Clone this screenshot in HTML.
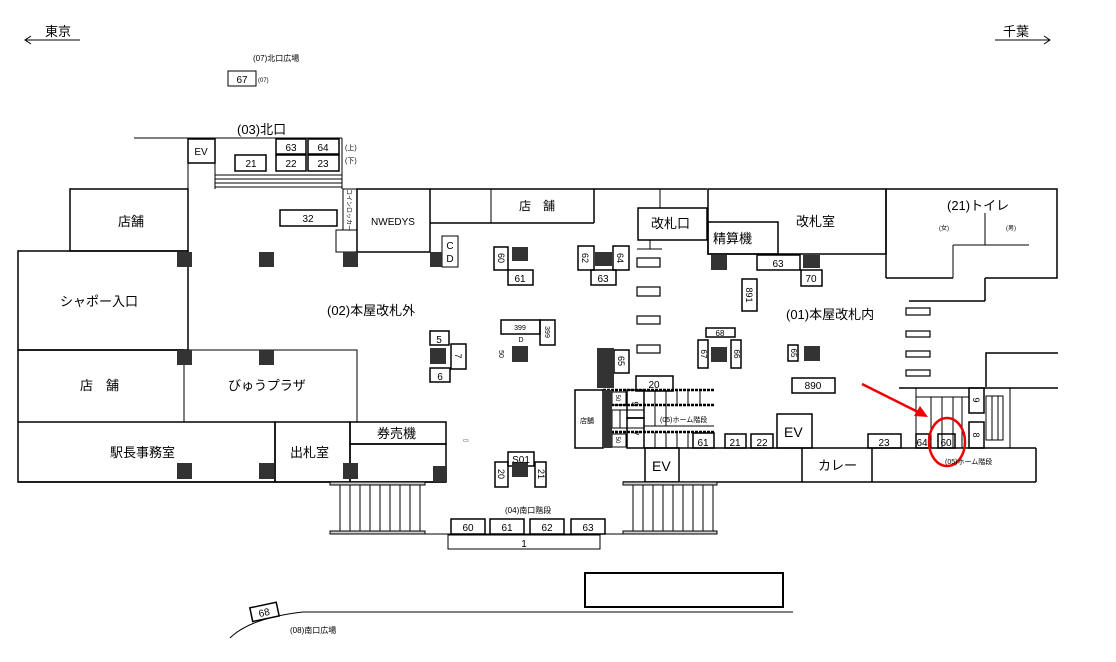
<!DOCTYPE html>
<html><head><meta charset="utf-8"><style>
html,body{margin:0;padding:0;background:#fff;}
svg{display:block;}
text{font-family:"Liberation Sans","Noto Sans CJK JP",sans-serif;fill:#000;}
</style></head><body>
<svg width="1116" height="662" viewBox="0 0 1116 662" xmlns="http://www.w3.org/2000/svg">
<g fill="none" stroke="#000" stroke-width="1">
<line x1="25" y1="40" x2="80" y2="40"/><polyline points="31,36 25,40 31,44"/>
<line x1="995" y1="40" x2="1050" y2="40"/><polyline points="1044,36 1050,40 1044,44"/>
<rect x="228" y="71" width="28" height="15"/>
<line x1="134" y1="138" x2="342" y2="138"/>
<rect x="188" y="139" width="27" height="24" stroke-width="1.5"/>
<line x1="188" y1="139" x2="188" y2="251"/>
<line x1="215" y1="139" x2="215" y2="189"/><line x1="342" y1="138" x2="342" y2="189"/>
<line x1="215" y1="175" x2="342" y2="175"/><line x1="215" y1="179" x2="342" y2="179"/><line x1="215" y1="183" x2="342" y2="183"/><line x1="215" y1="187" x2="342" y2="187"/>
<g stroke-width="1.5">
<rect x="276" y="139" width="30" height="15"/><rect x="308" y="139" width="31" height="15"/>
<rect x="235" y="155" width="31" height="16"/><rect x="276" y="155" width="30" height="16"/><rect x="308" y="155" width="31" height="16"/>
<rect x="70" y="189" width="118" height="62"/>
<rect x="18" y="251" width="170" height="99"/>
<line x1="18" y1="350" x2="184" y2="350"/><line x1="18" y1="350" x2="18" y2="422"/>
<rect x="18" y="422" width="257" height="60"/>
<rect x="275" y="422" width="75" height="60"/>
<rect x="350" y="422" width="96" height="22"/>
<rect x="350" y="444" width="96" height="38"/>
<rect x="280" y="210" width="57" height="16"/>
<rect x="357" y="189" width="73" height="63"/>
<line x1="430" y1="189" x2="707" y2="189"/>
<line x1="430" y1="223" x2="594" y2="223"/><line x1="594" y1="189" x2="594" y2="223"/>
</g>
<rect x="184" y="350" width="173" height="72"/>
<rect x="343" y="189" width="14" height="41"/>
<rect x="336" y="230" width="21" height="22"/>
<line x1="491" y1="189" x2="491" y2="223"/>
<line x1="660" y1="189" x2="660" y2="208"/>
<rect x="442" y="236" width="16" height="31"/>
<g stroke-width="1.5">
<rect x="494" y="247" width="14" height="23"/><rect x="508" y="270" width="25" height="15"/>
<rect x="430" y="331" width="19" height="14"/><rect x="451" y="344" width="15" height="25"/><rect x="430" y="368" width="20" height="14"/>
<rect x="501" y="320" width="39" height="14"/><rect x="540" y="320" width="15" height="25"/>
<rect x="508" y="452" width="26" height="14"/><rect x="495" y="462" width="13" height="25"/><rect x="535" y="462" width="11" height="25"/>
<rect x="578" y="246" width="16" height="24"/><rect x="613" y="246" width="16" height="24"/><rect x="591" y="270" width="25" height="15"/>
<rect x="614" y="350" width="15" height="23"/><rect x="636" y="376" width="37" height="15"/>
<rect x="638" y="208" width="69" height="32"/>
<rect x="708" y="189" width="178" height="65"/>
<rect x="708" y="222" width="70" height="32"/>
<rect x="757" y="255" width="43" height="15"/><rect x="801" y="270" width="21" height="16"/>
<rect x="742" y="279" width="15" height="32"/>
<rect x="706" y="328" width="29" height="9"/><rect x="698" y="340" width="10" height="28"/><rect x="731" y="340" width="10" height="28"/>
<rect x="788" y="345" width="10" height="16"/>
<rect x="792" y="378" width="43" height="15"/>
<polyline points="886,189 1057,189 1057,278 985,278"/><line x1="886" y1="189" x2="886" y2="278"/><line x1="886" y1="278" x2="953" y2="278"/>
<line x1="985" y1="278" x2="985" y2="301"/><line x1="909" y1="301" x2="985" y2="301"/>
<polyline points="986,387 986,353 1058,353"/><line x1="899" y1="388" x2="1058" y2="388"/>
</g>
<line x1="985" y1="213" x2="985" y2="245"/><line x1="953" y1="245" x2="1029" y2="245"/><line x1="953" y1="245" x2="953" y2="278"/>
<line x1="650" y1="240" x2="650" y2="249"/><line x1="637" y1="249" x2="662" y2="249"/>
<g stroke-width="1.2">
<rect x="637" y="258" width="23" height="9"/><rect x="637" y="287" width="23" height="9"/><rect x="637" y="316" width="23" height="8"/><rect x="637" y="345" width="23" height="8"/>
<rect x="906" y="308" width="24" height="7"/><rect x="906" y="331" width="24" height="6"/><rect x="906" y="351" width="24" height="6"/><rect x="906" y="370" width="24" height="6"/>
</g>
<line x1="916" y1="388" x2="916" y2="448"/><line x1="1010" y1="388" x2="1010" y2="448"/>
<line x1="931" y1="397" x2="931" y2="448"/><line x1="942" y1="397" x2="942" y2="448"/><line x1="953" y1="397" x2="953" y2="448"/><line x1="962" y1="397" x2="962" y2="448"/>
<line x1="916" y1="397" x2="969" y2="397"/>
<rect x="969" y="388" width="15" height="25" stroke-width="1.5"/><rect x="969" y="422" width="15" height="26" stroke-width="1.5"/>
<rect x="986" y="396" width="17" height="44"/><line x1="992" y1="396" x2="992" y2="440"/><line x1="998" y1="396" x2="998" y2="440"/>
<g stroke-width="1.5">
<rect x="868" y="434" width="33" height="14"/><rect x="916" y="434" width="13" height="14"/><rect x="938" y="434" width="17" height="14"/>
<rect x="725" y="434" width="21" height="14"/><rect x="751" y="434" width="22" height="14"/>
<rect x="777" y="414" width="35" height="34"/>
<line x1="645" y1="448" x2="1036" y2="448"/><line x1="623" y1="482" x2="1036" y2="482"/><line x1="1036" y1="448" x2="1036" y2="482"/>
<line x1="802" y1="448" x2="802" y2="482"/><line x1="872" y1="448" x2="872" y2="482"/>
<rect x="645" y="448" width="34" height="34"/>
<rect x="575" y="390" width="28" height="58"/>
<rect x="693" y="433" width="21" height="15"/>
<rect x="627" y="390" width="17" height="28"/><rect x="627" y="418" width="17" height="30"/>
</g>
<g stroke-width="1">
<line x1="603" y1="390" x2="714" y2="390" stroke-width="2.5" stroke-dasharray="3,1"/>
<line x1="603" y1="405" x2="714" y2="405" stroke-width="2.5" stroke-dasharray="3,1"/>
<line x1="603" y1="432" x2="714" y2="432" stroke-width="2.5" stroke-dasharray="3,1"/>
<line x1="603" y1="410" x2="644" y2="410"/><line x1="603" y1="428" x2="644" y2="428"/>
<line x1="644" y1="426" x2="714" y2="426"/>
<line x1="655" y1="390" x2="655" y2="405"/><line x1="666" y1="390" x2="666" y2="405"/><line x1="677" y1="390" x2="677" y2="405"/><line x1="688" y1="390" x2="688" y2="405"/><line x1="700" y1="390" x2="700" y2="405"/>
<line x1="655" y1="432" x2="655" y2="448"/><line x1="666" y1="432" x2="666" y2="448"/><line x1="677" y1="432" x2="677" y2="448"/><line x1="688" y1="432" x2="688" y2="448"/>
<line x1="612" y1="410" x2="612" y2="428"/><line x1="620" y1="410" x2="620" y2="428"/>
<line x1="655" y1="405" x2="655" y2="426"/><line x1="666" y1="405" x2="666" y2="426"/>
<rect x="612" y="392" width="14" height="13"/><rect x="612" y="434" width="14" height="13"/>
</g>
<line x1="18" y1="482" x2="446" y2="482" stroke-width="1.5"/>
<rect x="330" y="482" width="95" height="3" fill="#ccc"/><rect x="330" y="531" width="95" height="3" fill="#ccc"/>
<rect x="623" y="482" width="94" height="3" fill="#ccc"/><rect x="623" y="531" width="94" height="3" fill="#ccc"/>
<path d="M340 485V531M350 485V531M360 485V531M370 485V531M380 485V531M390 485V531M400 485V531M410 485V531M420 485V531"/>
<path d="M633 485V531M643 485V531M653 485V531M663 485V531M673 485V531M683 485V531M693 485V531M703 485V531M713 485V531"/>
<line x1="425" y1="534" x2="623" y2="534"/>
<g stroke-width="1.5">
<rect x="451" y="519" width="34" height="15"/><rect x="490" y="519" width="34" height="15"/><rect x="530" y="519" width="34" height="15"/><rect x="571" y="519" width="34" height="15"/>
</g>
<rect x="448" y="535" width="152" height="14"/>
<rect x="585" y="573" width="198" height="34" stroke-width="2"/>
<line x1="303" y1="612" x2="793" y2="612"/>
<path d="M230 638 Q250 618 303 612"/>
<rect x="251" y="605" width="27" height="14" transform="rotate(-12 264 612)" stroke-width="1.5"/>
</g>
<g fill="#333">
<rect x="177" y="252" width="15" height="15"/><rect x="259" y="252" width="15" height="15"/><rect x="343" y="252" width="15" height="15"/><rect x="430" y="252" width="12" height="15"/>
<rect x="177" y="350" width="15" height="15"/><rect x="259" y="350" width="15" height="15"/>
<rect x="177" y="463" width="15" height="16"/><rect x="259" y="463" width="15" height="16"/><rect x="343" y="463" width="15" height="16"/><rect x="433" y="466" width="14" height="16"/>
<rect x="512" y="247" width="16" height="14"/><rect x="430" y="348" width="16" height="16"/><rect x="512" y="346" width="16" height="16"/><rect x="512" y="462" width="16" height="15"/>
<rect x="595" y="252" width="17" height="14"/><rect x="711" y="255" width="16" height="15"/><rect x="803" y="255" width="17" height="13"/>
<rect x="711" y="347" width="16" height="15"/><rect x="804" y="346" width="16" height="15"/><rect x="597" y="348" width="17" height="40"/>
<rect x="603" y="390" width="9" height="58"/>
</g>
<line x1="862" y1="384" x2="920" y2="413" stroke="#e00" stroke-width="2.5"/>
<polygon points="928,417 914,416 920,406" fill="#e00"/>
<ellipse cx="947" cy="442" rx="18" ry="24" fill="none" stroke="#e00" stroke-width="2.5"/>
<g font-size="13">
<text x="45" y="36">東京</text><text x="1003" y="36">千葉</text>
<text x="237" y="134">(03)北口</text>
<text x="118" y="226">店舗</text>
<text x="60" y="306">シャポー入口</text>
<text x="80" y="390">店　舗</text>
<text x="228" y="390">びゅうプラザ</text>
<text x="110" y="457">駅長事務室</text>
<text x="290" y="457">出札室</text>
<text x="377" y="438">券売機</text>
<text x="327" y="315">(02)本屋改札外</text>
<text x="519" y="210" font-size="12">店　舗</text>
<text x="651" y="228">改札口</text>
<text x="713" y="243">精算機</text>
<text x="796" y="226">改札室</text>
<text x="947" y="210">(21)トイレ</text>
<text x="786" y="319">(01)本屋改札内</text>
<text x="784" y="437" font-size="14">EV</text>
<text x="652" y="471" font-size="14">EV</text>
<text x="818" y="470">カレー</text>
</g>
<g font-size="10" text-anchor="middle">
<text x="242" y="83">67</text><text x="291" y="151">63</text><text x="323" y="151">64</text>
<text x="251" y="167">21</text><text x="291" y="167">22</text><text x="323" y="167">23</text>
<text x="201" y="155">EV</text>
<text x="308" y="222">32</text>
<text x="393" y="225">NWEDYS</text>
<text x="450" y="249">C</text><text x="450" y="262">D</text>
<text x="520" y="282">61</text>
<text x="439" y="343">5</text><text x="440" y="380">6</text>
<text x="521" y="463">S01</text>
<text x="603" y="282">63</text><text x="778" y="267">63</text><text x="811" y="282">70</text>
<text x="813" y="389">890</text><text x="654" y="388">20</text>
<text x="703" y="446">61</text><text x="735" y="446">21</text><text x="762" y="446">22</text>
<text x="884" y="446">23</text><text x="922" y="446">64</text><text x="946" y="446">60</text>
<text x="468" y="531">60</text><text x="507" y="531">61</text><text x="547" y="531">62</text><text x="588" y="531">63</text>
<text x="524" y="547">1</text>
<text x="264" y="616" transform="rotate(-12 264 612)">68</text>
</g>
<g font-size="9" text-anchor="middle">
<text transform="translate(498,258) rotate(90)">60</text>
<text transform="translate(455,356) rotate(90)">7</text>
<text x="520" y="330" font-size="7">399</text><text transform="translate(545,332) rotate(90)" font-size="7">399</text>
<text x="521" y="342" font-size="7">D</text>
<text transform="translate(499,354) rotate(90)" font-size="7">50</text>
<text transform="translate(498,474) rotate(90)">20</text><text transform="translate(538,474) rotate(90)">21</text>
<text transform="translate(582,258) rotate(90)">62</text><text transform="translate(617,258) rotate(90)">64</text>
<text transform="translate(618,361) rotate(90)">65</text>
<text transform="translate(746,295) rotate(90)">891</text>
<text x="720" y="336" font-size="8">68</text>
<text transform="translate(701,354) rotate(90)" font-size="8">67</text><text transform="translate(734,354) rotate(90)" font-size="8">66</text>
<text transform="translate(791,353) rotate(90)" font-size="8">65</text>
<text transform="translate(632,404) rotate(90)">9</text><text transform="translate(632,433) rotate(90)">7</text>
<text transform="translate(973,400) rotate(90)">9</text><text transform="translate(973,435) rotate(90)">8</text>
<text transform="translate(347,210) rotate(90)" font-size="6">コインロッカー</text>
<text transform="translate(616,398) rotate(90)" font-size="6">50</text><text transform="translate(616,440) rotate(90)" font-size="6">50</text>
</g>
<g font-size="8">
<text x="253" y="61">(07)北口広場</text><text x="258" y="82" font-size="6">(07)</text>
<text x="345" y="150" font-size="7">(上)</text><text x="345" y="163" font-size="7">(下)</text>
<text x="939" y="230" font-size="6">(女)</text><text x="1006" y="230" font-size="6">(男)</text>
<text x="660" y="422" font-size="7">(05)ホーム階段</text>
<text x="945" y="464" font-size="7">(05)ホーム階段</text>
<text x="580" y="423" font-size="7">店舗</text>
<text x="505" y="513">(04)南口階段</text>
<text x="290" y="633">(08)南口広場</text>
<text x="463" y="442" font-size="6">▭</text>
</g>
</svg>
</body></html>
